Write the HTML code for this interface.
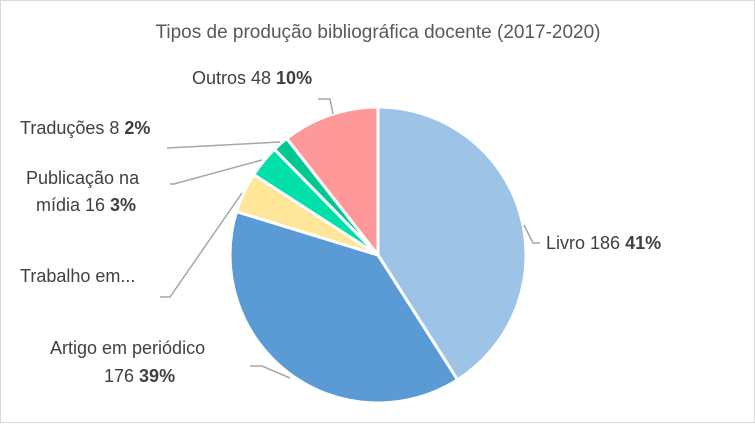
<!DOCTYPE html>
<html><head><meta charset="utf-8"><style>
body{margin:0;background:#fff}
svg text{font-family:"Liberation Sans",sans-serif;fill:#404040}
</style></head><body>
<svg width="755" height="423" viewBox="0 0 755 423">
<rect x="0.5" y="0.5" width="754" height="422" fill="#fff" stroke="#d9d9d9"/>
<text x="378" y="38" text-anchor="middle" font-size="19" style="fill:#595959">Tipos de produção bibliográfica docente (2017-2020)</text>
<g id="slices"></g>
<g id="leaders" fill="none" stroke="#a6a6a6" stroke-width="1.5">
<polyline points="318,99 330,99 333,114"/>
<polyline points="167,148 280,142"/>
<polyline points="170,184 174,184 262,160"/>
<polyline points="160,297 170,297 242,193"/>
<polyline points="524,225 533,243 540,243"/>
<polyline points="250,366 262,366 290,378"/>
</g>
<g font-size="18">
<text x="192" y="84">Outros 48 <tspan font-weight="bold">10%</tspan></text>
<text x="20" y="134">Traduções 8 <tspan font-weight="bold">2%</tspan></text>
<text x="26" y="184">Publicação na</text>
<text x="36" y="211">mídia 16 <tspan font-weight="bold">3%</tspan></text>
<text x="20" y="282">Trabalho em...</text>
<text x="546" y="249">Livro 186 <tspan font-weight="bold">41%</tspan></text>
<text x="50" y="354">Artigo em periódico</text>
<text x="104" y="382">176 <tspan font-weight="bold">39%</tspan></text>
</g>
</svg>
<script>
const categories=["Livro","Artigo em periódico","Trabalho em evento","Publicação na mídia","Traduções","Outros"];
const values=[186,176,20,16,8,48];
const colors=["#9dc3e6","#5b9bd5","#ffe699","#00e0a8","#00c890","#ff9999"];
const cx=378,cy=255,r=148;
const total=values.reduce((a,b)=>a+b,0);
const g=document.getElementById('slices');
let a0=0;
values.forEach((v,i)=>{
  const a1=a0+v/total*2*Math.PI;
  const x0=cx+r*Math.sin(a0),y0=cy-r*Math.cos(a0),x1=cx+r*Math.sin(a1),y1=cy-r*Math.cos(a1);
  const p=document.createElementNS('http://www.w3.org/2000/svg','path');
  p.setAttribute('d',`M${cx},${cy} L${x0},${y0} A${r},${r} 0 ${a1-a0>Math.PI?1:0} 1 ${x1},${y1} Z`);
  p.setAttribute('fill',colors[i]);p.setAttribute('stroke','#fff');p.setAttribute('stroke-width','3');
  
  
  g.appendChild(p);
  a0=a1;
});
</script>
</body></html>
